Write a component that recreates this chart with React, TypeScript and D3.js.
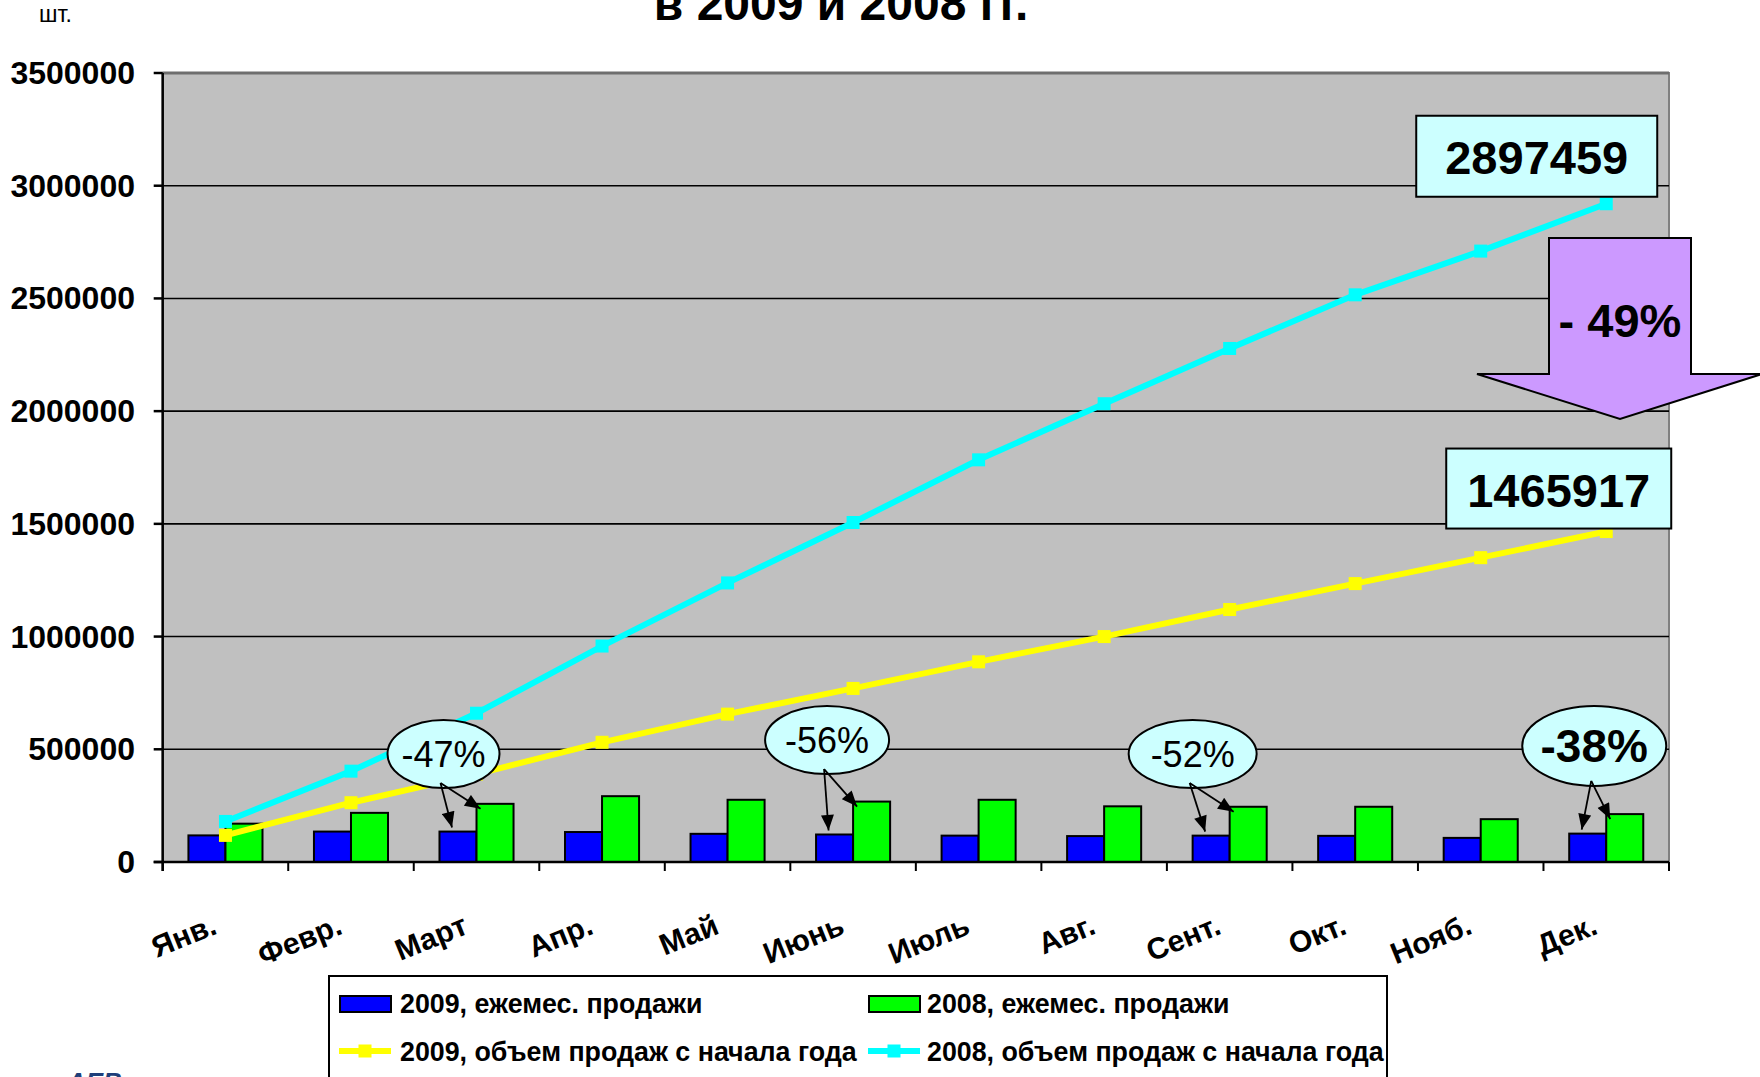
import React from 'react';
import * as d3 from 'd3';

// ---------- data ----------
const months = ['Янв.', 'Февр.', 'Март', 'Апр.', 'Май', 'Июнь', 'Июль', 'Авг.', 'Сент.', 'Окт.', 'Нояб.', 'Дек.'];
const monthly2009 = [118000, 135000, 135000, 133000, 125000, 122000, 117000, 115000, 117000, 116000, 107000, 125917];
const monthly2008 = [170000, 218000, 258000, 292000, 276000, 268000, 276000, 247000, 245000, 245000, 190000, 212459];
const cumulative2009 = [118000, 263000, 390000, 531000, 656000, 770000, 888000, 1000000, 1120000, 1235000, 1350000, 1465917];
const cumulative2008 = [180000, 403000, 660000, 958000, 1238000, 1506000, 1784000, 2033000, 2278000, 2516000, 2710000, 2920000];
const yTicks = [0, 500000, 1000000, 1500000, 2000000, 2500000, 3000000, 3500000];
const changeMonths = ['Март', 'Июнь', 'Сент.', 'Дек.'];
const changeLabels = ['-47%', '-56%', '-52%', '-38%'];
const changeLevels = [479000, 541000, 479000, 515000];
const totalLabels = ['2897459', '1465917'];
const totalChangeLabel = '- 49%';
const seriesNames = ['2009, ежемес. продажи', '2008, ежемес. продажи', '2009, объем продаж с начала года', '2008, объем продаж с начала года'];

// ---------- layout ----------
const W = 1760, H = 1077;
const plot = { left: 162.7, right: 1669, top: 73, bottom: 862 };
const FONT = '"Liberation Sans", Arial, sans-serif';
const C = { blue: '#0000FF', green: '#00FF00', yellow: '#FFFF00', cyan: '#00FFFF', plotBg: '#C0C0C0', callout: '#CCFFFF', purple: '#CC99FF' };
const ellipseLayout = [
  { dx: -33, rx: 56, ry: 34, size: 36, bold: false },
  { dx: -26, rx: 62, ry: 34, size: 36, bold: false },
  { dx: -37, rx: 64, ry: 34, size: 36, bold: false },
  { dx: -12, rx: 72, ry: 40, size: 46, bold: true },
];

export default function App() {
  const x = d3.scaleBand<string>().domain(months).range([plot.left, plot.right]).paddingInner(0).paddingOuter(0);
  const y = d3.scaleLinear().domain([0, 3500000]).range([plot.bottom, plot.top]);
  const bw = x.bandwidth();
  const barW = bw * 0.295;
  const cx = (m: string) => (x(m) as number) + bw / 2;

  const line = d3.line<number>().x((_, i) => cx(months[i])).y(d => y(d));

  const boundaries = d3.range(months.length + 1).map(i => plot.left + i * bw);

  const lastM = months[months.length - 1];
  const p08 = { x: cx(lastM), y: y(cumulative2008[cumulative2008.length - 1]) };
  const p09 = { x: cx(lastM), y: y(cumulative2009[cumulative2009.length - 1]) };
  const box1 = { x: p08.x - 190, y: p08.y - 88, w: 241, h: 81 };
  const box2 = { x: p09.x - 160, y: p09.y - 83, w: 225, h: 80 };
  // big arrow between the two boxes
  const ax = 1549, ar = 1691, at = 238, ash = 374, ahl = 1477, ahr = 1762, tipX = 1620, tipY = 419;
  const bigArrow = `M${ax},${at} L${ar},${at} L${ar},${ash} L${ahr},${ash} L${tipX},${tipY} L${ahl},${ash} L${ax},${ash} Z`;

  return (
    <svg width={W} height={H} style={{ position: 'absolute', left: 0, top: 0, background: '#fff' }} fontFamily={FONT}>
      <defs>
        <marker id="arr" viewBox="0 0 12 10" refX="12" refY="5" markerWidth="17" markerHeight="13" orient="auto" markerUnits="userSpaceOnUse">
          <path d="M0,0 L12,5 L0,10 Z" fill="#000" />
        </marker>
      </defs>

      {/* title (cut off at top) */}
      <text x={841} y={20} textAnchor="middle" fontSize={48} fontWeight="bold">в 2009 и 2008 гг.</text>
      <text x={39} y={22} fontSize={23}>шт.</text>

      {/* plot area */}
      <rect x={plot.left} y={plot.top} width={plot.right - plot.left} height={plot.bottom - plot.top} fill={C.plotBg} stroke="#808080" strokeWidth={2} />
      {yTicks.filter(t => t > 0).map(t => (
        <line key={t} x1={plot.left} x2={plot.right} y1={y(t)} y2={y(t)} stroke={t === 3500000 ? '#6e6e6e' : '#000'} strokeWidth={t === 3500000 ? 3 : 1.6} />
      ))}

      {/* y axis */}
      <line x1={plot.left} x2={plot.left} y1={plot.top} y2={plot.bottom + 9} stroke="#000" strokeWidth={2.5} />
      {yTicks.map(t => (
        <g key={t}>
          <line x1={plot.left - 9} x2={plot.left} y1={y(t)} y2={y(t)} stroke="#000" strokeWidth={2.5} />
          <text x={135} y={y(t) + 11} textAnchor="end" fontSize={32} fontWeight="bold">{t}</text>
        </g>
      ))}

      {/* bars */}
      {months.map((m, i) => (
        <g key={m}>
          <rect x={cx(m) - barW} y={y(monthly2009[i])} width={barW} height={plot.bottom - y(monthly2009[i])} fill={C.blue} stroke="#000" strokeWidth={2} />
          <rect x={cx(m)} y={y(monthly2008[i])} width={barW} height={plot.bottom - y(monthly2008[i])} fill={C.green} stroke="#000" strokeWidth={2} />
        </g>
      ))}

      {/* x axis */}
      <line x1={plot.left - 9} x2={plot.right} y1={plot.bottom} y2={plot.bottom} stroke="#000" strokeWidth={2.5} />
      {boundaries.map((b, i) => (
        <line key={i} x1={b} x2={b} y1={plot.bottom} y2={plot.bottom + 9} stroke="#000" strokeWidth={2} />
      ))}
      {months.map(m => (
        <text key={m} transform={`translate(${cx(m) - 7},${plot.bottom + 71}) rotate(-22)`} textAnchor="end" fontSize={30} fontWeight="bold">{m}</text>
      ))}

      {/* cumulative lines */}
      <path d={line(cumulative2008) || ''} fill="none" stroke={C.cyan} strokeWidth={6} />
      {cumulative2008.map((v, i) => (
        <rect key={i} x={cx(months[i]) - 6.5} y={y(v) - 6.5} width={13} height={13} fill={C.cyan} />
      ))}
      <path d={line(cumulative2009) || ''} fill="none" stroke={C.yellow} strokeWidth={6} />
      {cumulative2009.map((v, i) => (
        <rect key={i} x={cx(months[i]) - 6.5} y={y(v) - 6.5} width={13} height={13} fill={C.yellow} />
      ))}

      {/* ellipse callouts */}
      {changeMonths.map((m, k) => {
        const i = months.indexOf(m);
        const L = ellipseLayout[k];
        const ex = cx(m) + L.dx;
        const ey = y(changeLevels[k]);
        const sx = ex - 3, sy = ey + L.ry - 5;
        const blueTopX = cx(m) - barW / 2 - 6, blueTopY = y(monthly2009[i]) - 4;
        const greenX = cx(m) + 4, greenY = y(monthly2008[i]) + 5;
        return (
          <g key={m}>
            <ellipse cx={ex} cy={ey} rx={L.rx} ry={L.ry} fill={C.callout} stroke="#000" strokeWidth={2} />
            <text x={ex} y={ey + L.size * 0.36} textAnchor="middle" fontSize={L.size} fontWeight={L.bold ? 'bold' : 'normal'}>{changeLabels[k]}</text>
            <line x1={sx} y1={sy} x2={blueTopX} y2={blueTopY} stroke="#000" strokeWidth={1.8} markerEnd="url(#arr)" />
            <line x1={sx} y1={sy} x2={greenX} y2={greenY} stroke="#000" strokeWidth={1.8} markerEnd="url(#arr)" />
          </g>
        );
      })}

      {/* total callouts */}
      <rect x={box1.x} y={box1.y} width={box1.w} height={box1.h} fill={C.callout} stroke="#000" strokeWidth={2} />
      <text x={box1.x + box1.w / 2} y={box1.y + 58} textAnchor="middle" fontSize={47} fontWeight="bold">{totalLabels[0]}</text>
      <rect x={box2.x} y={box2.y} width={box2.w} height={box2.h} fill={C.callout} stroke="#000" strokeWidth={2} />
      <text x={box2.x + box2.w / 2} y={box2.y + 58} textAnchor="middle" fontSize={47} fontWeight="bold">{totalLabels[1]}</text>

      <path d={bigArrow} fill={C.purple} stroke="#000" strokeWidth={2} />
      <text x={tipX} y={337} textAnchor="middle" fontSize={47} fontWeight="bold">{totalChangeLabel}</text>

      {/* legend */}
      <rect x={329} y={976} width={1058} height={130} fill="#fff" stroke="#000" strokeWidth={2} />
      <rect x={340} y={996} width={51} height={16} fill={C.blue} stroke="#000" strokeWidth={2} />
      <text x={400} y={1013} fontSize={26.8} fontWeight="bold">{seriesNames[0]}</text>
      <rect x={869} y={996} width={51} height={16} fill={C.green} stroke="#000" strokeWidth={2} />
      <text x={927} y={1013} fontSize={26.8} fontWeight="bold">{seriesNames[1]}</text>
      <line x1={339} x2={391} y1={1051} y2={1051} stroke={C.yellow} strokeWidth={6} />
      <rect x={358.5} y={1044.5} width={13} height={13} fill={C.yellow} />
      <text x={400} y={1061} fontSize={26.8} fontWeight="bold">{seriesNames[2]}</text>
      <line x1={868} x2={920} y1={1051} y2={1051} stroke={C.cyan} strokeWidth={6} />
      <rect x={887.5} y={1044.5} width={13} height={13} fill={C.cyan} />
      <text x={927} y={1061} fontSize={26.8} fontWeight="bold">{seriesNames[3]}</text>

      {/* source logo, cut off at bottom */}
      <text x={0} y={1091} fontSize={26} fontWeight="bold" fontStyle="italic">
        <tspan fill="#B8C4D6">www.</tspan><tspan fill="#1F3F7A">AEB</tspan>
      </text>
    </svg>
  );
}
